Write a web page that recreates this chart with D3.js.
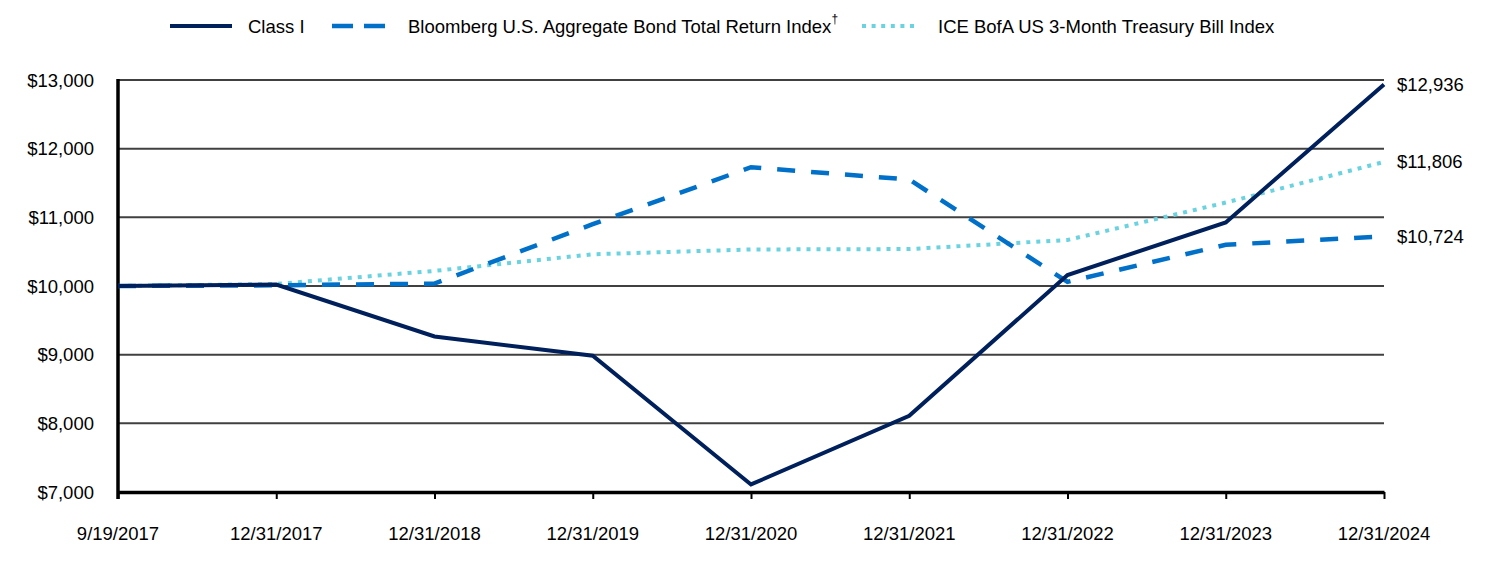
<!DOCTYPE html>
<html>
<head>
<meta charset="utf-8">
<script src="https://cdn.jsdelivr.net/npm/d3@7/dist/d3.min.js"></script>
<style>
  html, body { margin: 0; padding: 0; background: #fff; }
  svg { display: block; }
  text { font-family: "Liberation Sans", Arial, sans-serif; fill: #000; }
</style>
</head>
<body>
<svg id="chart" width="1512" height="576"></svg>
<script>
const categories = ["9/19/2017", "12/31/2017", "12/31/2018", "12/31/2019", "12/31/2020", "12/31/2021", "12/31/2022", "12/31/2023", "12/31/2024"];
const classI = [10000, 10020, 9265, 8985, 7110, 8110, 10160, 10925, 12936];
const bloomberg = [10000, 10010, 10035, 10900, 11730, 11550, 10060, 10600, 10724];
const ice = [10000, 10030, 10220, 10462, 10532, 10538, 10670, 11215, 11806];
const yTicks = [7000, 8000, 9000, 10000, 11000, 12000, 13000];
const seriesNames = ["Class I", "Bloomberg U.S. Aggregate Bond Total Return Index", "ICE BofA US 3-Month Treasury Bill Index"];
const endLabels = ["$12,936", "$11,806", "$10,724"];

(function () {
const svg = d3.select("#chart");
const pLeft = 118, pRight = 1384, pTop = 80, pBottom = 492;
const fs = 18.5;

const x = d3.scalePoint().domain(categories).range([pLeft, pRight]);
const y = d3.scaleLinear().domain([7000, 13000]).range([pBottom, pTop]);
const fmt = d3.format("$,");

// gridlines
svg.append("g").selectAll("line").data(yTicks.filter(d => d > 7000)).join("line")
  .attr("x1", pLeft).attr("x2", pRight)
  .attr("y1", d => y(d)).attr("y2", d => y(d))
  .attr("stroke", "#404040").attr("stroke-width", 2);

// y labels
svg.append("g").selectAll("text").data(yTicks).join("text")
  .attr("x", 94).attr("y", d => y(d))
  .attr("text-anchor", "end").attr("dominant-baseline", "central")
  .attr("font-size", fs).text(d => fmt(d));

// x axis
const xAxis = d3.axisBottom(x).tickSize(7).tickSizeOuter(0).tickFormat("");
const gx = svg.append("g").attr("transform", `translate(0,${pBottom})`).call(xAxis);
gx.select(".domain").attr("stroke", "#000").attr("stroke-width", 3.5);
gx.selectAll(".tick line").attr("stroke", "#000").attr("stroke-width", 2);

svg.append("g").selectAll("text").data(categories).join("text")
  .attr("x", d => x(d)).attr("y", 533)
  .attr("text-anchor", "middle").attr("dominant-baseline", "central")
  .attr("font-size", fs).text(d => d);

// y axis line
svg.append("line").attr("x1", pLeft).attr("x2", pLeft).attr("y1", pTop - 1).attr("y2", pBottom + 7)
  .attr("stroke", "#000").attr("stroke-width", 3.5);

const line = d3.line().x((d, i) => x(categories[i])).y(d => y(d));

const styles = [
  { data: ice, color: "#6BD3E0", width: 4, dash: "4,6" },
  { data: bloomberg, color: "#0070C8", width: 4.5, dash: "18,16" },
  { data: classI, color: "#00205B", width: 4, dash: null }
];

styles.forEach(s => {
  svg.append("path").datum(s.data)
    .attr("d", line).attr("fill", "none")
    .attr("stroke", s.color).attr("stroke-width", s.width)
    .attr("stroke-dasharray", s.dash);
});

// end labels
const endVals = [classI[8], ice[8], bloomberg[8]];
svg.append("g").selectAll("text").data(endVals).join("text")
  .attr("x", 1397).attr("y", d => y(d))
  .attr("dominant-baseline", "central").attr("font-size", fs)
  .text((d, i) => endLabels[i]);

// legend
const ly = 26;
const lg = svg.append("g");
lg.append("line").attr("x1", 170).attr("x2", 232).attr("y1", ly).attr("y2", ly)
  .attr("stroke", "#00205B").attr("stroke-width", 4);
lg.append("text").attr("x", 248).attr("y", ly).attr("dominant-baseline", "central")
  .attr("font-size", fs).text(seriesNames[0]);

lg.append("line").attr("x1", 332).attr("x2", 385).attr("y1", ly).attr("y2", ly)
  .attr("stroke", "#0070C8").attr("stroke-width", 4.5).attr("stroke-dasharray", "21,11");
const t2 = lg.append("text").attr("x", 408).attr("y", ly).attr("dominant-baseline", "central")
  .attr("font-size", fs);
t2.append("tspan").text(seriesNames[1]);
t2.append("tspan").attr("font-size", 12).attr("dy", -7).text("†");

lg.append("line").attr("x1", 862).attr("x2", 914).attr("y1", ly).attr("y2", ly)
  .attr("stroke", "#6BD3E0").attr("stroke-width", 4).attr("stroke-dasharray", "4,5.6");
lg.append("text").attr("x", 938).attr("y", ly).attr("dominant-baseline", "central")
  .attr("font-size", fs).text(seriesNames[2]);
})();
</script>
</body>
</html>
